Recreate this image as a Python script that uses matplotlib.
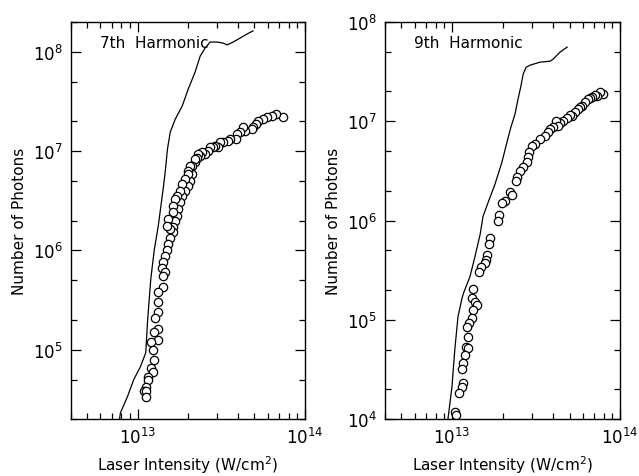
import numpy as np
import matplotlib
matplotlib.use("Agg")
import matplotlib.pyplot as plt
from matplotlib.ticker import LogLocator, NullFormatter

plt.rcParams['font.family'] = ['DejaVu Sans']
plt.rcParams['mathtext.default'] = 'regular'

# 7th harmonic: calculated curve
x7_line = [4.90e13, 4.52e13, 4.22e13, 3.73e13, 3.43e13, 3.25e13, 2.99e13, 2.72e13,
           2.54e13, 2.37e13, 2.21e13, 2.01e13, 1.85e13, 1.68e13, 1.57e13, 1.51e13,
           1.47e13, 1.43e13, 1.33e13, 1.26e13, 1.20e13, 1.15e13, 1.12e13, 1.04e13,
           9.5e12, 8.7e12, 7.9e12, 7.8e12]
y7_line = [1.63e8, 1.52e8, 1.42e8, 1.26e8, 1.18e8, 1.23e8, 1.26e8, 1.26e8,
           1.10e8, 9.1e7, 6.28e7, 4.23e7, 2.85e7, 2.10e7, 1.56e7, 1.05e7,
           6.58e6, 4.43e6, 1.75e6, 1.02e6, 5.1e5, 2.0e5, 9.3e4, 6.7e4,
           5.0e4, 3.35e4, 2.3e4, 1.96e4]

# 7th harmonic: measured points
x7_pts = [7.40e13, 6.72e13, 6.37e13, 5.94e13, 5.62e13, 5.25e13, 5.11e13, 4.90e13,
          4.84e13, 4.40e13, 4.28e13, 4.10e13, 3.94e13, 3.88e13, 3.58e13, 3.48e13,
          3.25e13, 3.12e13, 3.04e13, 2.91e13, 2.83e13, 2.72e13, 2.65e13, 2.54e13,
          2.44e13, 2.37e13, 2.31e13, 2.28e13, 2.21e13, 2.21e13, 2.13e13, 2.07e13,
          2.13e13, 2.07e13, 2.01e13, 2.01e13, 1.99e13, 1.93e13, 1.93e13, 1.85e13,
          1.85e13, 1.80e13, 1.80e13, 1.75e13, 1.73e13, 1.73e13, 1.68e13, 1.68e13,
          1.64e13, 1.64e13, 1.62e13, 1.62e13, 1.57e13, 1.57e13, 1.53e13, 1.53e13,
          1.51e13, 1.51e13, 1.47e13, 1.43e13, 1.41e13, 1.47e13, 1.43e13, 1.43e13,
          1.33e13, 1.33e13, 1.32e13, 1.28e13, 1.33e13, 1.25e13, 1.32e13, 1.20e13,
          1.23e13, 1.25e13, 1.20e13, 1.23e13, 1.15e13, 1.16e13, 1.12e13, 1.09e13,
          1.13e13, 1.12e13]
y7_pts = [2.20e7, 2.37e7, 2.26e7, 2.20e7, 2.10e7, 2.01e7, 1.87e7, 1.75e7,
          1.67e7, 1.59e7, 1.75e7, 1.56e7, 1.49e7, 1.32e7, 1.32e7, 1.26e7,
          1.23e7, 1.23e7, 1.10e7, 1.12e7, 1.10e7, 1.10e7, 1.0e7, 9.3e6,
          9.8e6, 8.9e6, 9.3e6, 8.5e6, 7.7e6, 8.3e6, 7.05e6, 7.05e6,
          5.86e6, 4.98e6, 6.28e6, 4.43e6, 5.86e6, 5.21e6, 3.94e6, 4.65e6,
          3.51e6, 3.94e6, 3.05e6, 2.59e6, 3.51e6, 2.20e6, 3.27e6, 1.96e6,
          2.78e6, 1.71e6, 2.42e6, 1.52e6, 1.35e6, 1.63e6, 2.06e6, 1.15e6,
          1.75e6, 1.02e6, 8.7e5, 7.6e5, 6.7e5, 6.1e5, 5.5e5, 4.3e5,
          3.8e5, 3.05e5, 2.4e5, 2.1e5, 1.6e5, 1.5e5, 1.26e5, 1.2e5,
          1.0e5, 7.9e4, 6.6e4, 6.0e4, 5.3e4, 5.0e4, 4.2e4, 3.8e4,
          3.8e4, 3.3e4]

# 9th harmonic: calculated curve
x9_line = [4.84e13, 4.40e13, 3.99e13, 3.83e13, 3.34e13, 2.91e13, 2.76e13, 2.65e13,
           2.57e13, 2.47e13, 2.37e13, 2.24e13, 2.13e13, 1.98e13, 1.80e13, 1.64e13,
           1.53e13, 1.47e13, 1.37e13, 1.28e13, 1.18e13, 1.15e13, 1.086e13, 1.04e13,
           1.0e13, 9.47e12]
y9_line = [5.6e7, 5.0e7, 4.23e7, 4.04e7, 3.95e7, 3.68e7, 3.51e7, 2.98e7,
           2.26e7, 1.67e7, 1.18e7, 8.7e6, 6.28e6, 3.85e6, 2.31e6, 1.52e6,
           1.10e6, 7.2e5, 4.33e5, 2.72e5, 1.92e5, 1.67e5, 1.07e5, 4.98e4,
           2.1e4, 1.0e4]

# 9th harmonic: measured points
x9_pts = [7.92e13, 7.60e13, 7.30e13, 7.10e13, 6.81e13, 6.63e13, 6.45e13, 6.19e13,
          5.94e13, 5.78e13, 5.62e13, 5.40e13, 5.18e13, 5.04e13, 4.84e13, 4.58e13,
          4.40e13, 4.16e13, 4.28e13, 3.99e13, 3.83e13, 3.73e13, 3.58e13, 3.34e13,
          3.12e13, 2.99e13, 2.87e13, 2.83e13, 2.79e13, 2.65e13, 2.54e13, 2.44e13,
          2.40e13, 2.21e13, 2.28e13, 2.07e13, 1.98e13, 1.90e13, 1.88e13, 1.68e13,
          1.66e13, 1.62e13, 1.59e13, 1.57e13, 1.49e13, 1.45e13, 1.33e13, 1.315e13,
          1.37e13, 1.41e13, 1.33e13, 1.315e13, 1.26e13, 1.23e13, 1.245e13, 1.21e13,
          1.245e13, 1.195e13, 1.16e13, 1.15e13, 1.16e13, 1.15e13, 1.10e13, 1.04e13,
          1.056e13]
y9_pts = [1.87e7, 1.96e7, 1.79e7, 1.83e7, 1.75e7, 1.71e7, 1.67e7, 1.56e7,
          1.42e7, 1.39e7, 1.32e7, 1.23e7, 1.12e7, 1.15e7, 1.07e7, 1.0e7,
          9.55e6, 1.0e7, 8.9e6, 8.7e6, 8.3e6, 7.74e6, 7.05e6, 6.58e6,
          5.86e6, 5.59e6, 4.86e6, 4.33e6, 3.85e6, 3.43e6, 3.13e6, 2.72e6,
          2.48e6, 1.96e6, 1.79e6, 1.56e6, 1.49e6, 1.15e6, 1.0e6, 6.7e5,
          5.86e5, 4.54e5, 4.04e5, 3.77e5, 3.43e5, 3.05e5, 2.06e5, 1.67e5,
          1.52e5, 1.42e5, 1.26e5, 1.05e5, 9.3e4, 8.5e4, 6.7e4, 5.33e4,
          5.2e4, 4.43e4, 3.68e4, 3.2e4, 2.31e4, 2.1e4, 1.83e4, 1.18e4,
          1.10e4]

fig = plt.figure(figsize=(6.39, 4.77), dpi=100)
ax1 = fig.add_axes([0.111, 0.1195, 0.366, 0.832])
ax2 = fig.add_axes([0.6025, 0.1195, 0.368, 0.832])

panels = [
    (ax1, x7_line, y7_line, x7_pts, y7_pts, '7th  Harmonic', (2e4, 2e8)),
    (ax2, x9_line, y9_line, x9_pts, y9_pts, '9th  Harmonic', (1e4, 1e8)),
]

for ax, xl, yl, xp, yp, title, ylim in panels:
    ax.plot(xl, yl, color='black', lw=0.9)
    ax.plot(xp, yp, 'o', mfc='white', mec='black', ms=6, mew=0.9, ls='none')
    ax.set_xscale('log')
    ax.set_yscale('log')
    ax.set_xlim(4e12, 1e14)
    ax.set_ylim(*ylim)
    ax.xaxis.set_major_locator(LogLocator(base=10))
    ax.xaxis.set_minor_locator(LogLocator(base=10, subs=np.arange(2, 10)))
    ax.yaxis.set_major_locator(LogLocator(base=10))
    ax.yaxis.set_minor_locator(LogLocator(base=10, subs=[2, 5]))
    ax.xaxis.set_minor_formatter(NullFormatter())
    ax.yaxis.set_minor_formatter(NullFormatter())
    ax.tick_params(which='both', direction='in', top=True, right=True,
                   labelsize=12, width=0.9)
    ax.tick_params(which='major', length=7, pad=6)
    ax.tick_params(which='minor', length=4)
    for s in ax.spines.values():
        s.set_linewidth(1.0)
    ax.text(0.125, 0.948, title, transform=ax.transAxes, fontsize=11,
            ha='left', va='center')
    ax.set_xlabel('Laser Intensity (W/cm$^2$)', fontsize=11, labelpad=4)
    ax.set_ylabel('Number of Photons', fontsize=11, labelpad=4)

fig.savefig('out.png', dpi=100)
